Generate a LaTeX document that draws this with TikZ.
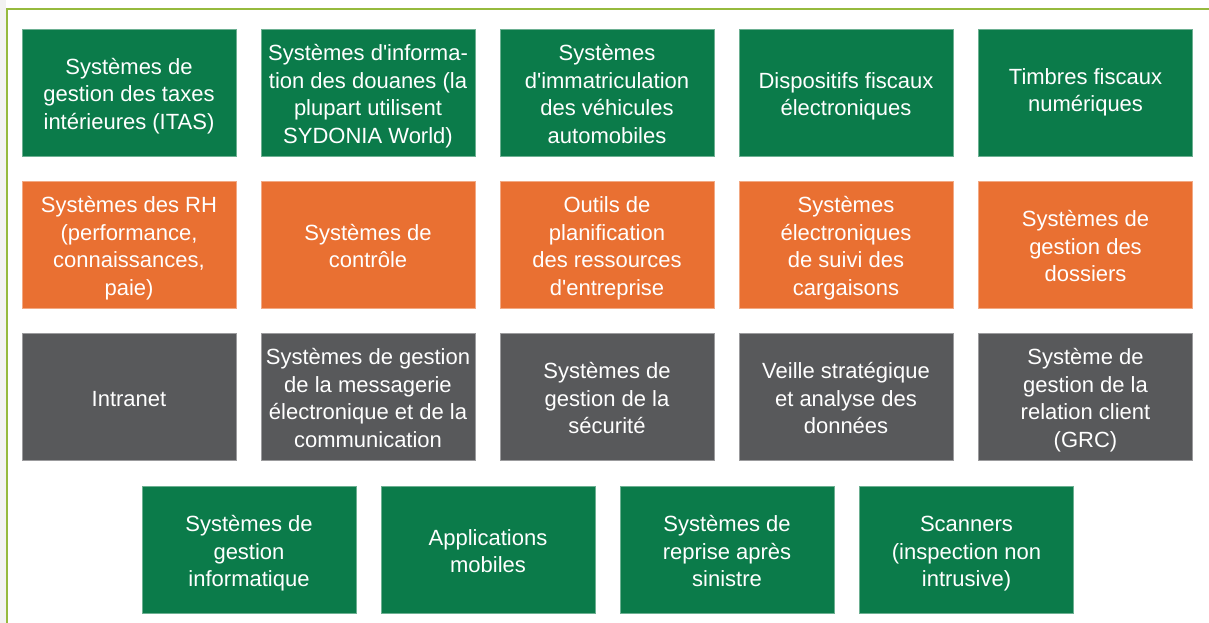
\documentclass[tikz,border=0pt]{standalone}
\usepackage{fontspec}
\setmainfont{Liberation Sans}[Ligatures={TeXOff,NoCommon}]
\usepackage{tikz}
\definecolor{dgreen}{RGB}{11,123,74}
\definecolor{dorange}{RGB}{233,112,50}
\definecolor{dgray}{RGB}{88,89,91}
\definecolor{dframe}{RGB}{150,186,62}
\definecolor{dback}{RGB}{242,242,242}
\newcommand{\boxtext}[2][-4pt]{\raisebox{#1}[\height][\depth]{\begin{tabular}{@{}c@{}}#2\end{tabular}}}
\tikzset{
  box/.style={minimum width=214pt, minimum height=127pt, inner sep=0pt,
    text=white, line width=0.6pt, font=\fontsize{22}{27.5}\selectfont},
  greenbox/.style={box, fill=dgreen, draw=dgreen!60!white},
  orangebox/.style={box, fill=dorange, draw=dorange!60!white},
  graybox/.style={box, fill=dgray, draw=dgray!60!white}
}

\begin{document}
\begin{tikzpicture}[x=1pt,y=-1pt]
          \useasboundingbox (0,0) rectangle (1209,623);
          % background and frame
          \fill[dback] (0,0) rectangle (6,623);
          \draw[dframe, line width=1.5pt] (7,623) -- (7,9) -- (1209,9);
          % first row
          \node[greenbox] (itas) at (129,92.5) {\boxtext{Systèmes de\\gestion des taxes\\intérieures (ITAS)}};
          \node[greenbox] (sydonia) at (368,92.5) {\boxtext{Systèmes d'informa-\\tion des douanes (la\\plupart utilisent\\SYDONIA World)}};
          \node[greenbox] (immat) at (607,92.5) {\boxtext{Systèmes\\d'immatriculation\\des véhicules\\automobiles}};
          \node[greenbox] (dispfisc) at (846,92.5) {\boxtext{Dispositifs fiscaux\\électroniques}};
          \node[greenbox] (timbres) at (1085.5,92.5) {\boxtext[0pt]{Timbres fiscaux\\numériques}};
          % second row
          \node[orangebox] (rh) at (129,244.5) {\boxtext{Systèmes des RH\\(performance,\\connaissances,\\paie)}};
          \node[orangebox] (controle) at (368,244.5) {\boxtext{Systèmes de\\contrôle}};
          \node[orangebox] (erp) at (607,244.5) {\boxtext{Outils de\\planification\\des ressources\\d'entreprise}};
          \node[orangebox] (cargaisons) at (846,244.5) {\boxtext{Systèmes\\électroniques\\de suivi des\\cargaisons}};
          \node[orangebox] (dossiers) at (1085.5,244.5) {\boxtext{Systèmes de\\gestion des\\dossiers}};
          % third row
          \node[graybox] (intranet) at (129,396.5) {\boxtext{Intranet}};
          \node[graybox] (messagerie) at (368,396.5) {\boxtext{Systèmes de gestion\\de la messagerie\\électronique et de la\\communication}};
          \node[graybox] (securite) at (607,396.5) {\boxtext{Systèmes de\\gestion de la\\sécurité}};
          \node[graybox] (veille) at (846,396.5) {\boxtext{Veille stratégique\\et analyse des\\données}};
          \node[graybox] (grc) at (1085.5,396.5) {\boxtext{Système de\\gestion de la\\relation client\\(GRC)}};
          % fourth row
          \node[greenbox] (gestinfo) at (249,549.5) {\boxtext{Systèmes de\\gestion\\informatique}};
          \node[greenbox] (mobiles) at (488,549.5) {\boxtext{Applications\\mobiles}};
          \node[greenbox] (reprise) at (727,549.5) {\boxtext{Systèmes de\\reprise après\\sinistre}};
          \node[greenbox] (scanners) at (966.5,549.5) {\boxtext{Scanners\\(inspection non\\intrusive)}};
        \end{tikzpicture}
\end{document}
